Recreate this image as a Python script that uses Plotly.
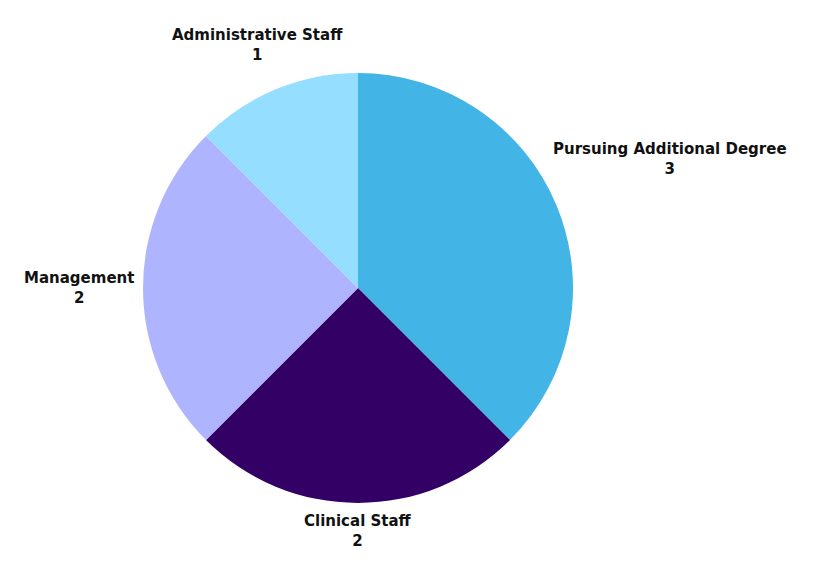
import math
import plotly.graph_objects as go

categories = ["Pursuing Additional Degree", "Clinical Staff", "Management", "Administrative Staff"]
values = [3, 2, 2, 1]
colors = ["#42B4E6", "#330066", "#AFB4FF", "#96DEFF"]

W, H = 815, 575
CX, CY, R = 350, 280, 215          # pie centre (px, from top-left) and radius
GAP = 9                             # gap between pie edge and nearest point of label box
FSIZE = 15
BOX_HH = 19                         # half height of a two-line label
FONT = dict(family="DejaVu Sans", size=FSIZE, color="#111111")

# approximate DejaVu Sans Bold advance widths (units per 2048 em), for label box estimate
ADV = {" ": 713, "A": 1585, "C": 1499, "D": 1700, "M": 1995, "P": 1532, "S": 1481,
       "a": 1382, "b": 1466, "c": 1219, "d": 1466, "e": 1389, "f": 891, "g": 1466,
       "i": 702, "l": 702, "m": 2134, "n": 1458, "o": 1407, "r": 1010, "s": 1219,
       "t": 979, "u": 1458, "v": 1335}


def text_w(t):
    return sum(ADV.get(ch, 1400) for ch in t) / 2048 * FSIZE


fig = go.Figure(go.Pie(
    labels=categories,
    values=values,
    sort=False,
    direction="clockwise",
    rotation=0,
    marker=dict(colors=colors, line=dict(width=0)),
    textinfo="none",
    showlegend=False,
    hoverinfo="label+value",
    domain=dict(x=[(CX - R) / W, (CX + R) / W], y=[(H - CY - R) / H, (H - CY + R) / H]),
))

# outside labels centred on each slice's mid-angle ray, nearest box point at R + GAP
total = sum(values)
cum = 0
for lab, v in zip(categories, values):
    mid = (cum + v / 2) / total * 2 * math.pi
    cum += v
    s, c = math.sin(mid), math.cos(mid)
    hw = text_w(lab) / 2

    def near(d):
        bx, by = d * s, -d * c
        dx, dy = max(abs(bx) - hw, 0), max(abs(by) - BOX_HH, 0)
        return math.hypot(dx, dy)

    lo, hi = 0.0, 2000.0
    for _ in range(60):
        m = (lo + hi) / 2
        if near(m) < R + GAP:
            lo = m
        else:
            hi = m
    d = (lo + hi) / 2
    px, py = CX + d * s, CY - d * c
    fig.add_annotation(
        x=px / W, y=(H - py) / H, xref="paper", yref="paper",
        xanchor="center", yanchor="middle", showarrow=False, align="center",
        text=f"<b>{lab}</b><br><b>{v}</b>", font=FONT,
    )

fig.update_layout(
    width=W, height=H,
    margin=dict(l=0, r=0, t=0, b=0),
    paper_bgcolor="white",
    plot_bgcolor="white",
)
fig.write_html("out.html")
